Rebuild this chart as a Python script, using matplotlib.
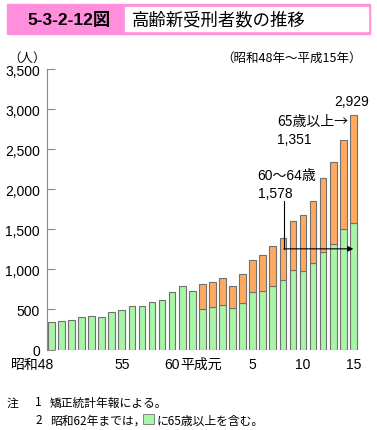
import matplotlib.pyplot as plt
import matplotlib.patches as mpatches
import numpy as np

plt.rcParams['font.family'] = ['Liberation Sans', 'Noto Sans CJK JP']

# 昭和48年 ~ 平成15年 (31 years)
years = list(range(31))
age_60_64 = [340, 356, 365, 402, 423, 406, 465, 490, 540, 540, 590, 623, 715, 790, 727,
             502, 527, 560, 515, 577, 715, 727, 790, 862, 994, 985, 1077, 1219, 1315, 1506, 1578]
age_65_over = [0] * 15 + [317, 321, 334, 275, 363, 400, 454, 500, 528, 604, 696, 775, 921,
                          1025, 1109, 1351]
tick_pos = [7, 12, 20, 25, 30]
tick_txt = ['55', '60', '5', '10', '15']

green = '#A8F5A8'
orange = '#FFAA5E'
edge = '#707070'
pink = '#FF8FDC'

W, H = 377, 431
fig = plt.figure(figsize=(W / 100, H / 100), dpi=100)


def fx(x):
    return x / W


def fy(y):
    return 1 - y / H


# title band
fig.patches.append(mpatches.Rectangle((fx(7), fy(35)), fx(363), 30 / H,
                                      transform=fig.transFigure, color=pink, zorder=0))
fig.patches.append(mpatches.Rectangle((fx(125), fy(32)), fx(243), 24 / H,
                                      transform=fig.transFigure, color='white', zorder=1))
fig.text(fx(27), fy(20), '5-3-2-12図', fontsize=12.5, fontweight='bold', va='center')
fig.text(fx(132), fy(20), '高齢新受刑者数の推移', fontsize=12.5, va='center',
         family=['Noto Sans CJK JP'])
fig.text(fx(8), fy(58), '（人）', fontsize=9, va='center', family=['Noto Sans CJK JP'])
fig.text(fx(362), fy(58), '（昭和48年～平成15年）', fontsize=9, va='center', ha='right',
         family=['Noto Sans CJK JP'])

ax = fig.add_axes([fx(46.7), 80.5 / H, fx(359.4 - 46.7), (361 - 80.5) / H])
x = np.array(years)
ax.bar(x, age_60_64, width=0.66, color=green, edgecolor=edge, linewidth=0.8)
top = np.array(age_65_over)
ax.bar(x[15:], top[15:], bottom=np.array(age_60_64)[15:], width=0.66, color=orange,
       edgecolor=edge, linewidth=0.8)

ax.set_xlim(-0.46, 30.6)
ax.set_ylim(0, 3500)
ax.set_yticks(np.arange(0, 3501, 500))
ax.set_yticklabels([f'{v:,}' for v in range(0, 3501, 500)], fontsize=10)
ax.tick_params(axis='y', direction='in', length=6, color='#888888', pad=5)
ax.set_xticks([])
for s in ['top', 'right', 'bottom']:
    ax.spines[s].set_visible(False)
ax.spines['left'].set_color('#888888')

tr = ax.get_xaxis_transform()
ax.text(0.25, -0.025, '昭和48', transform=tr, ha='right', va='top', fontsize=10)
for p, t in zip(tick_pos, tick_txt):
    ax.text(p, -0.025, t, transform=tr, ha='center', va='top', fontsize=10)
ax.text(12.85, -0.025, '平成元', transform=tr, ha='left', va='top', fontsize=10)

# annotations
total = age_60_64[-1] + age_65_over[-1]
ax.text(29.8, 3106, f'{total:,}', ha='center', va='center', fontsize=10)
ax.text(22.4, 2856, '65歳以上→', ha='left', va='center', fontsize=10,
        family=['Noto Sans CJK JP'])
ax.text(22.4, 2631, f'{age_65_over[-1]:,}', ha='left', va='center', fontsize=10)
ax.text(20.5, 2181, '60～64歳', ha='left', va='center', fontsize=10)
ax.text(20.5, 1956, f'{age_60_64[-1]:,}', ha='left', va='center', fontsize=10)
ax.plot([23.1, 23.1], [1856, 1256], color='black', linewidth=0.8)
ax.annotate('', xy=(30.0, 1256), xytext=(23.1, 1256),
            arrowprops=dict(arrowstyle='-|>', color='black', lw=0.8, mutation_scale=8,
                            shrinkA=0, shrinkB=0))

# notes
nf = ['Noto Sans CJK JP']
fig.text(fx(7), fy(403), '注', fontsize=8.5, va='center', family=nf)
fig.text(fx(35), fy(403), '1', fontsize=8.5, va='center', family=nf)
fig.text(fx(50), fy(403), '矯正統計年報による。', fontsize=8.5, va='center', family=nf)
fig.text(fx(35), fy(421), '2', fontsize=8.5, va='center', family=nf)
fig.text(fx(50), fy(421), '昭和62年までは，', fontsize=8.5, va='center', family=nf)
fig.patches.append(mpatches.Rectangle((fx(143), fy(425)), fx(11), 10 / H,
                                      transform=fig.transFigure, facecolor=green,
                                      edgecolor=edge, linewidth=0.6))
fig.text(fx(156), fy(421), 'に65歳以上を含む。', fontsize=8.5, va='center', family=nf)

fig.savefig('out.png', dpi=100)
